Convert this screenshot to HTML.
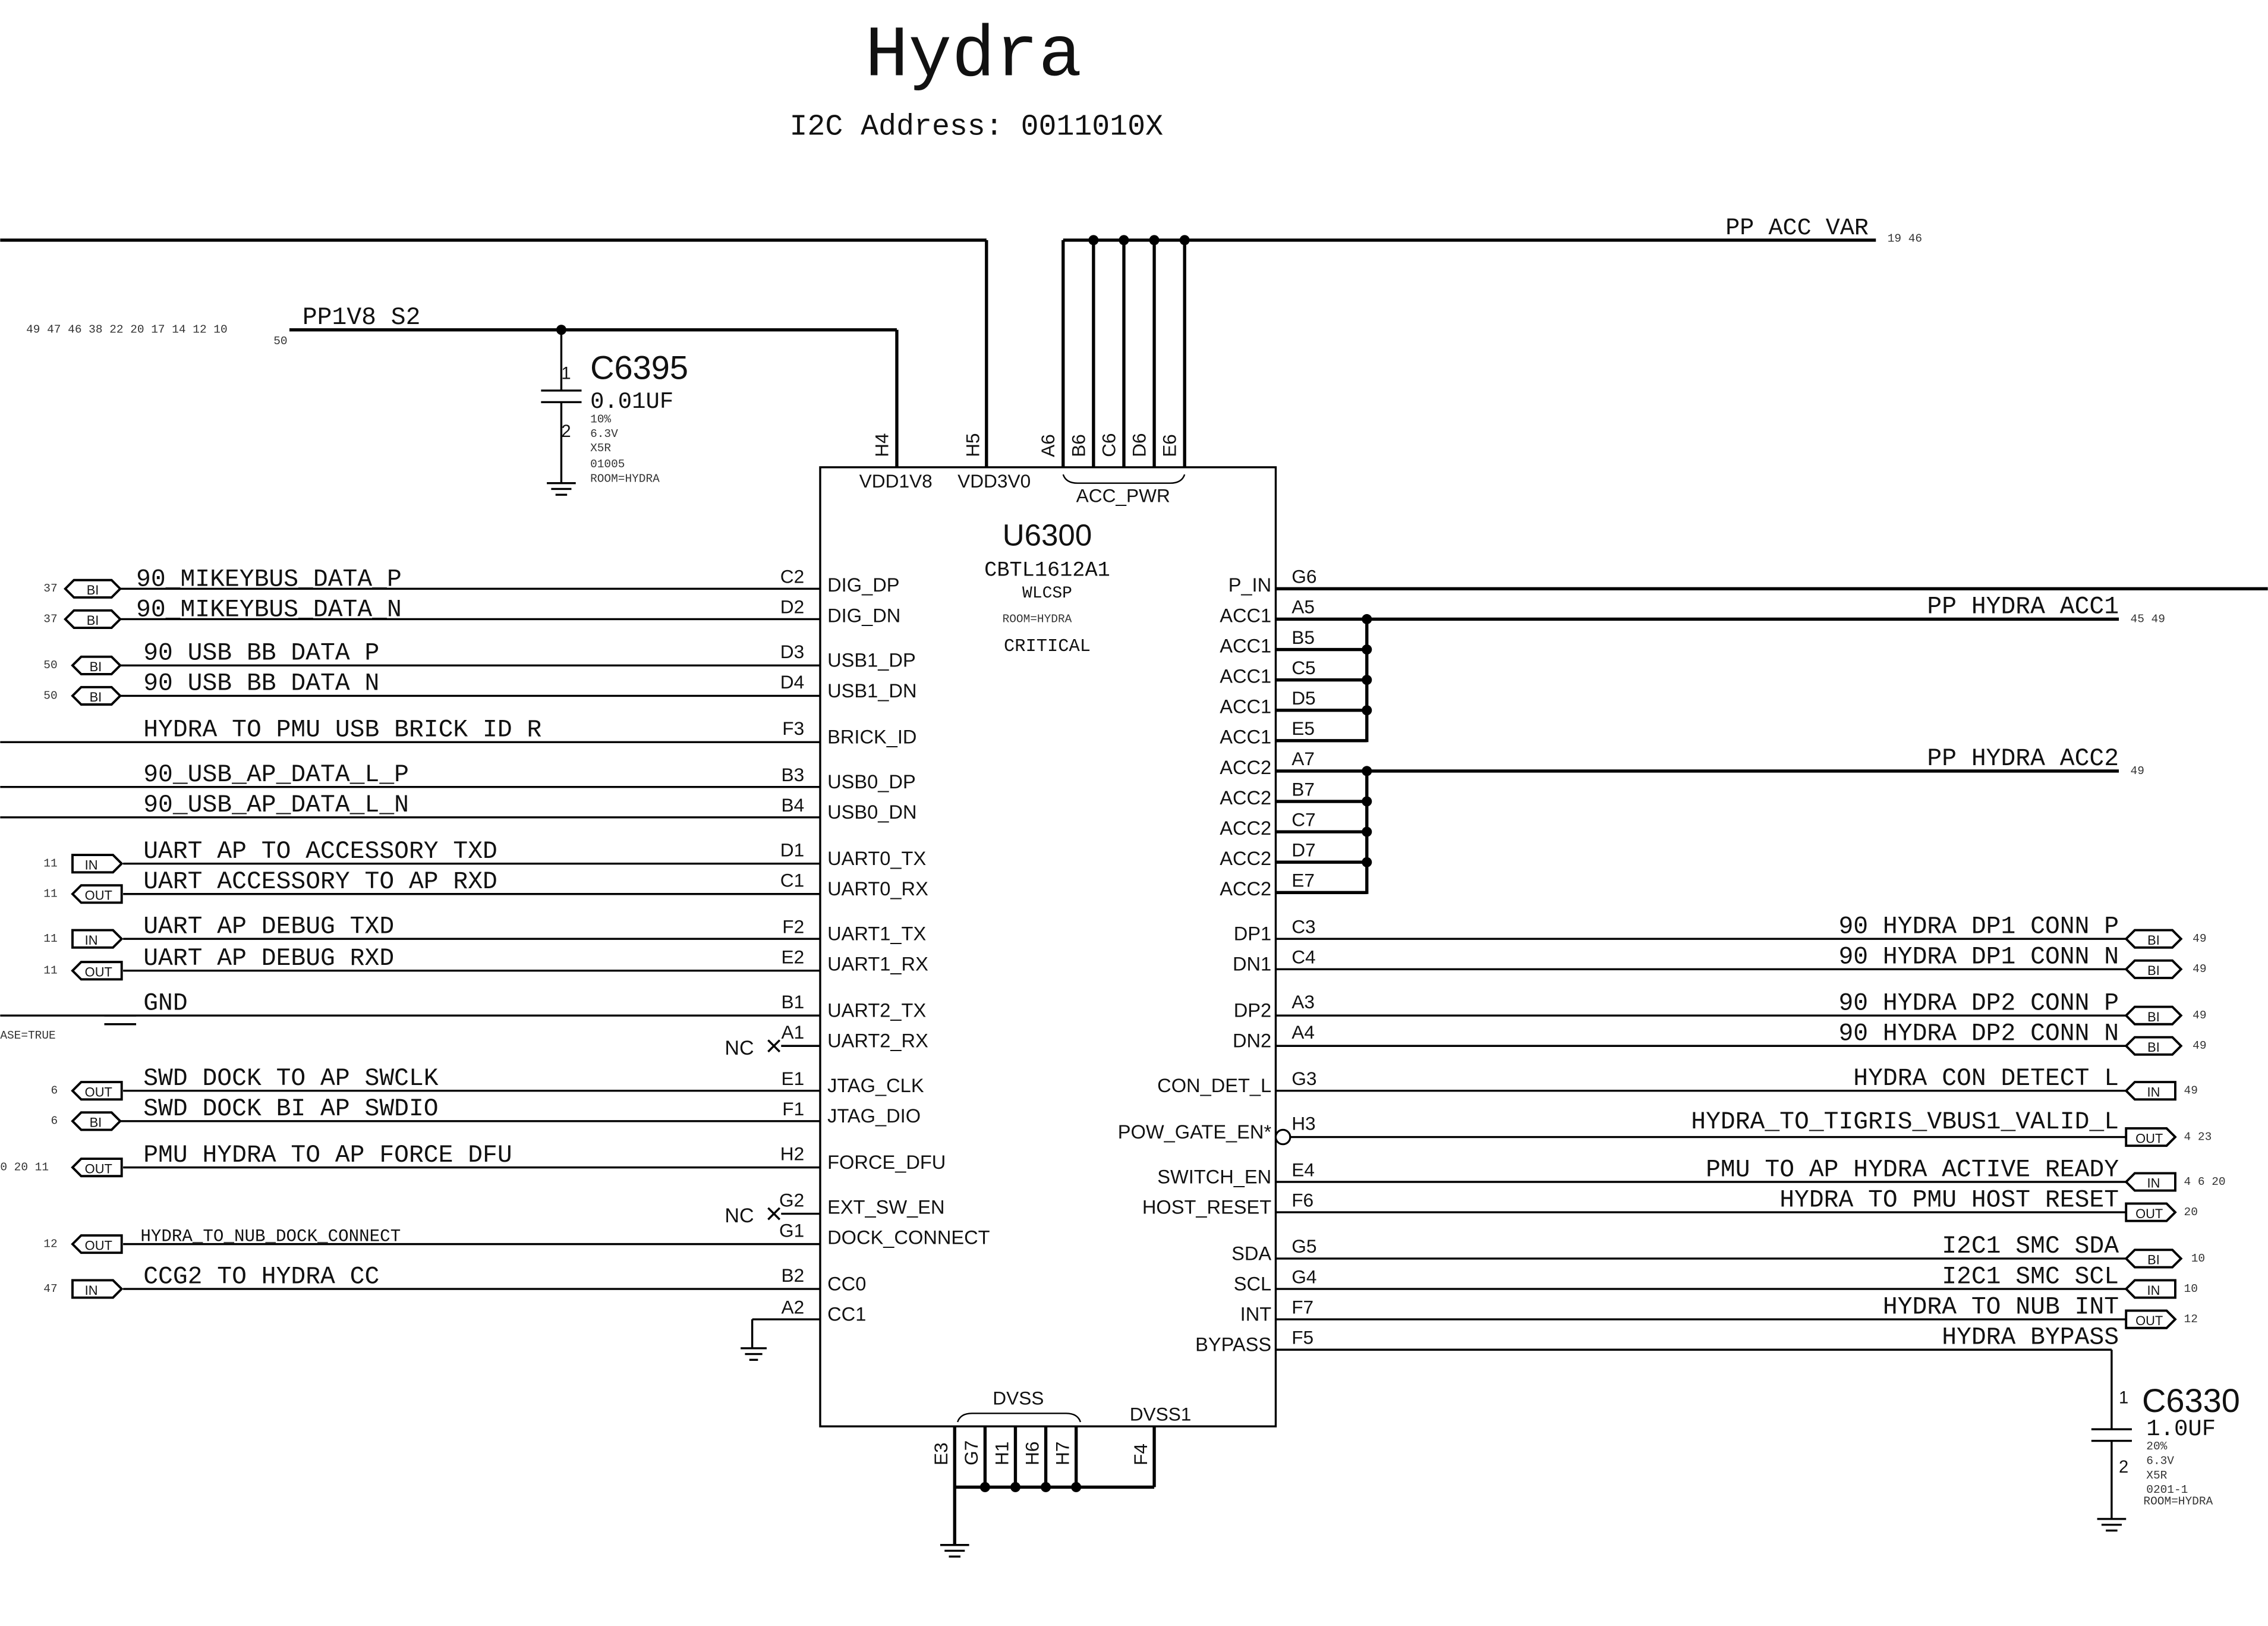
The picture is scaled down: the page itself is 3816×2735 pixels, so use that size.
<!DOCTYPE html>
<html><head><meta charset="utf-8"><style>
html,body{margin:0;padding:0;background:#fff}
svg{display:block}
.m{font-family:"Liberation Mono",monospace;fill:#111}
.s{font-family:"Liberation Sans",sans-serif;fill:#111}
.sm{font-family:"Liberation Mono",monospace;font-size:8px;fill:#333}
.fl{font-family:"Liberation Sans",sans-serif;font-size:9px;fill:#111;text-anchor:middle}
line,polyline,path,rect,polygon{stroke:#000;fill:none}
.w{stroke-width:1.4}
.t{stroke-width:2.2}
</style></head><body>
<svg width="3816" height="2735" viewBox="0 0 1568 1124" xmlns="http://www.w3.org/2000/svg">
<rect x="0" y="0" width="1568" height="1124" style="fill:#fff;stroke:none"/>
<text x="673" y="52" class="m" font-size="50" text-anchor="middle">Hydra</text>
<text x="675" y="93" class="m" font-size="20.5" text-anchor="middle">I2C Address: 0011010X</text>

<!-- chip -->
<rect x="567" y="323" width="315" height="663" class="w"/>
<text x="724" y="377" class="s" font-size="21" text-anchor="middle">U6300</text>
<text x="724" y="398" class="m" font-size="14.5" text-anchor="middle">CBTL1612A1</text>
<text x="724" y="413" class="m" font-size="11.5" text-anchor="middle">WLCSP</text>
<text x="693" y="430" class="sm" font-size="7">ROOM=HYDRA</text>
<text x="724" y="450" class="m" font-size="12.5" text-anchor="middle">CRITICAL</text>

<!-- top power -->
<line x1="0" y1="166" x2="682" y2="166" class="t"/>
<line x1="682" y1="166" x2="682" y2="323" class="t"/>
<line x1="735" y1="166" x2="1297" y2="166" class="t"/>
<line x1="735" y1="166" x2="735" y2="323" class="t"/>
<line x1="756" y1="166" x2="756" y2="323" class="t"/>
<line x1="777" y1="166" x2="777" y2="323" class="t"/>
<line x1="798" y1="166" x2="798" y2="323" class="t"/>
<line x1="819" y1="166" x2="819" y2="323" class="t"/>
<circle cx="756" cy="166" r="3.5" fill="#000"/><circle cx="777" cy="166" r="3.5" fill="#000"/><circle cx="798" cy="166" r="3.5" fill="#000"/><circle cx="819" cy="166" r="3.5" fill="#000"/>
<text x="1193" y="162" class="m" font-size="16.5">PP ACC VAR</text>
<text x="1305" y="167" class="sm">19 46</text>
<line x1="200" y1="228" x2="620" y2="228" class="t"/>
<line x1="620" y1="228" x2="620" y2="323" class="t"/>
<circle cx="388" cy="228" r="3.5" fill="#000"/>
<text x="209" y="224" class="m" font-size="17">PP1V8 S2</text>
<text x="18" y="230" class="sm">49 47 46 38 22 20 17 14 12 10</text>
<text x="189" y="238" class="sm">50</text>
<g class="s" font-size="13">
<text transform="translate(614,316) rotate(-90)">H4</text>
<text transform="translate(677,316) rotate(-90)">H5</text>
<text transform="translate(729,316) rotate(-90)">A6</text>
<text transform="translate(750,316) rotate(-90)">B6</text>
<text transform="translate(771,316) rotate(-90)">C6</text>
<text transform="translate(792,316) rotate(-90)">D6</text>
<text transform="translate(813,316) rotate(-90)">E6</text>
</g>
<text x="594" y="337" class="s" font-size="13">VDD1V8</text>
<text x="662" y="337" class="s" font-size="13">VDD3V0</text>
<path d="M735 328 Q737 334 745 334 L809 334 Q817 334 819 328" stroke-width="1"/>
<text x="744" y="347" class="s" font-size="13">ACC_PWR</text>

<!-- C6395 -->
<line x1="388" y1="228" x2="388" y2="270" class="w"/>
<line x1="374" y1="270" x2="402" y2="270" class="w"/>
<line x1="374" y1="278" x2="402" y2="278" class="w"/>
<line x1="388" y1="278" x2="388" y2="334" class="w"/>
<line x1="378" y1="334" x2="398" y2="334" class="w"/><line x1="381" y1="338" x2="395" y2="338" class="w"/><line x1="384" y1="342" x2="392" y2="342" class="w"/>
<text x="388" y="262" class="s" font-size="12">1</text>
<text x="388" y="302" class="s" font-size="12">2</text>
<text x="408" y="262" class="s" font-size="23">C6395</text>
<text x="408" y="282" class="m" font-size="16">0.01UF</text>
<text x="408" y="292" class="sm">10%</text>
<text x="408" y="302" class="sm">6.3V</text>
<text x="408" y="312" class="sm">X5R</text>
<text x="408" y="323" class="sm">01005</text>
<text x="408" y="333" class="sm" font-size="6">ROOM=HYDRA</text>

<!-- left side lines -->
<g class="w">
<line x1="83" y1="407" x2="567" y2="407"/>
<line x1="83" y1="428" x2="567" y2="428"/>
<line x1="83" y1="460" x2="567" y2="460"/>
<line x1="83" y1="481" x2="567" y2="481"/>
<line x1="0" y1="513" x2="567" y2="513"/>
<line x1="0" y1="544" x2="567" y2="544"/>
<line x1="0" y1="565" x2="567" y2="565"/>
<line x1="85" y1="597" x2="567" y2="597"/>
<line x1="85" y1="618" x2="567" y2="618"/>
<line x1="85" y1="649" x2="567" y2="649"/>
<line x1="85" y1="671" x2="567" y2="671"/>
<line x1="0" y1="702" x2="567" y2="702"/>
<line x1="540" y1="723" x2="567" y2="723"/>
<line x1="85" y1="754" x2="567" y2="754"/>
<line x1="83" y1="775" x2="567" y2="775"/>
<line x1="85" y1="807" x2="567" y2="807"/>
<line x1="540" y1="839" x2="567" y2="839"/>
<line x1="85" y1="860" x2="567" y2="860"/>
<line x1="85" y1="891" x2="567" y2="891"/>
<line x1="520" y1="912" x2="567" y2="912"/>
<line x1="520" y1="912" x2="520" y2="932"/>
<line x1="512" y1="932" x2="530" y2="932"/><line x1="515" y1="936" x2="527" y2="936"/><line x1="518" y1="940" x2="524" y2="940"/>
<line x1="72" y1="702" x2="94" y2="702"/><line x1="72" y1="708" x2="94" y2="708"/>
<line x1="531" y1="719" x2="539" y2="727"/><line x1="531" y1="727" x2="539" y2="719"/>
<line x1="531" y1="835" x2="539" y2="843"/><line x1="531" y1="843" x2="539" y2="835"/>
</g>
<text x="501" y="729" class="s" font-size="14">NC</text>
<text x="501" y="845" class="s" font-size="14">NC</text>
<text x="0" y="718" class="sm">ASE=TRUE</text>

<g class="m" font-size="17">
<text x="94" y="405">90_MIKEYBUS_DATA_P</text>
<text x="94" y="426">90_MIKEYBUS_DATA_N</text>
<text x="99" y="456">90 USB BB DATA P</text>
<text x="99" y="477">90 USB BB DATA N</text>
<text x="99" y="509">HYDRA TO PMU USB BRICK ID R</text>
<text x="99" y="540">90_USB_AP_DATA_L_P</text>
<text x="99" y="561">90_USB_AP_DATA_L_N</text>
<text x="99" y="593">UART AP TO ACCESSORY TXD</text>
<text x="99" y="614">UART ACCESSORY TO AP RXD</text>
<text x="99" y="645">UART AP DEBUG TXD</text>
<text x="99" y="667">UART AP DEBUG RXD</text>
<text x="99" y="698">GND</text>
<text x="99" y="750">SWD DOCK TO AP SWCLK</text>
<text x="99" y="771">SWD DOCK BI AP SWDIO</text>
<text x="99" y="803">PMU HYDRA TO AP FORCE DFU</text>
<text x="99" y="887">CCG2 TO HYDRA CC</text>
</g>
<text x="97" y="858" class="m" font-size="12">HYDRA_TO_NUB_DOCK_CONNECT</text>

<!-- left flags -->
<g stroke-width="1.6">
<polygon points="45,407 51,401 77,401 83,407 77,413 51,413"/>
<polygon points="45,428 51,422 77,422 83,428 77,434 51,434"/>
<polygon points="50,460 56,454 77,454 83,460 77,466 56,466"/>
<polygon points="50,481 56,475 77,475 83,481 77,487 56,487"/>
<polygon points="50,591 78,591 84,597 78,603 50,603"/>
<polygon points="56,612 84,612 84,624 56,624 50,618"/>
<polygon points="50,643 78,643 84,649 78,655 50,655"/>
<polygon points="56,665 84,665 84,677 56,677 50,671"/>
<polygon points="56,748 84,748 84,760 56,760 50,754"/>
<polygon points="50,775 56,769 77,769 83,775 77,781 56,781"/>
<polygon points="56,801 84,801 84,813 56,813 50,807"/>
<polygon points="56,854 84,854 84,866 56,866 50,860"/>
<polygon points="50,885 78,885 84,891 78,897 50,897"/>
</g>
<g class="fl">
<text x="64" y="411">BI</text><text x="64" y="432">BI</text>
<text x="66" y="464">BI</text><text x="66" y="485">BI</text>
<text x="63" y="601">IN</text><text x="68" y="622">OUT</text>
<text x="63" y="653">IN</text><text x="68" y="675">OUT</text>
<text x="68" y="758">OUT</text><text x="66" y="779">BI</text>
<text x="68" y="811">OUT</text><text x="68" y="864">OUT</text>
<text x="63" y="895">IN</text>
</g>
<g class="sm">
<text x="30" y="409">37</text><text x="30" y="430">37</text>
<text x="30" y="462">50</text><text x="30" y="483">50</text>
<text x="30" y="599">11</text><text x="30" y="620">11</text>
<text x="30" y="651">11</text><text x="30" y="673">11</text>
<text x="35" y="756">6</text><text x="35" y="777">6</text>
<text x="0" y="809">0  20  11</text>
<text x="30" y="862">12</text><text x="30" y="893">47</text>
</g>

<g class="s" font-size="13" text-anchor="end">
<text x="556" y="403">C2</text><text x="556" y="424">D2</text>
<text x="556" y="455">D3</text><text x="556" y="476">D4</text>
<text x="556" y="508">F3</text><text x="556" y="540">B3</text><text x="556" y="561">B4</text>
<text x="556" y="592">D1</text><text x="556" y="613">C1</text>
<text x="556" y="645">F2</text><text x="556" y="666">E2</text>
<text x="556" y="697">B1</text><text x="556" y="718">A1</text>
<text x="556" y="750">E1</text><text x="556" y="771">F1</text>
<text x="556" y="802">H2</text><text x="556" y="834">G2</text><text x="556" y="855">G1</text>
<text x="556" y="886">B2</text><text x="556" y="908">A2</text>
</g>
<g class="s" font-size="13.4">
<text x="572" y="409">DIG_DP</text><text x="572" y="430">DIG_DN</text>
<text x="572" y="461">USB1_DP</text><text x="572" y="482">USB1_DN</text>
<text x="572" y="514">BRICK_ID</text>
<text x="572" y="545">USB0_DP</text><text x="572" y="566">USB0_DN</text>
<text x="572" y="598">UART0_TX</text><text x="572" y="619">UART0_RX</text>
<text x="572" y="650">UART1_TX</text><text x="572" y="671">UART1_RX</text>
<text x="572" y="703">UART2_TX</text><text x="572" y="724">UART2_RX</text>
<text x="572" y="755">JTAG_CLK</text><text x="572" y="776">JTAG_DIO</text>
<text x="572" y="808">FORCE_DFU</text>
<text x="572" y="839">EXT_SW_EN</text><text x="572" y="860">DOCK_CONNECT</text>
<text x="572" y="892">CC0</text><text x="572" y="913">CC1</text>
</g>

<!-- right side -->
<g class="s" font-size="13.4" text-anchor="end">
<text x="879" y="409">P_IN</text><text x="879" y="430">ACC1</text><text x="879" y="451">ACC1</text>
<text x="879" y="472">ACC1</text><text x="879" y="493">ACC1</text><text x="879" y="514">ACC1</text>
<text x="879" y="535">ACC2</text><text x="879" y="556">ACC2</text><text x="879" y="577">ACC2</text>
<text x="879" y="598">ACC2</text><text x="879" y="619">ACC2</text>
<text x="879" y="650">DP1</text><text x="879" y="671">DN1</text>
<text x="879" y="703">DP2</text><text x="879" y="724">DN2</text>
<text x="879" y="755">CON_DET_L</text><text x="879" y="787">POW_GATE_EN*</text>
<text x="879" y="818">SWITCH_EN</text><text x="879" y="839">HOST_RESET</text>
<text x="879" y="871">SDA</text><text x="879" y="892">SCL</text>
<text x="879" y="913">INT</text><text x="879" y="934">BYPASS</text>
</g>
<g class="s" font-size="13">
<text x="893" y="403">G6</text><text x="893" y="424">A5</text><text x="893" y="445">B5</text>
<text x="893" y="466">C5</text><text x="893" y="487">D5</text><text x="893" y="508">E5</text>
<text x="893" y="529">A7</text><text x="893" y="550">B7</text><text x="893" y="571">C7</text>
<text x="893" y="592">D7</text><text x="893" y="613">E7</text>
<text x="893" y="645">C3</text><text x="893" y="666">C4</text>
<text x="893" y="697">A3</text><text x="893" y="718">A4</text>
<text x="893" y="750">G3</text><text x="893" y="781">H3</text>
<text x="893" y="813">E4</text><text x="893" y="834">F6</text>
<text x="893" y="866">G5</text><text x="893" y="887">G4</text>
<text x="893" y="908">F7</text><text x="893" y="929">F5</text>
</g>
<line x1="882" y1="407" x2="1568" y2="407" class="t"/>
<line x1="882" y1="428" x2="1465" y2="428" class="t"/>
<line x1="882" y1="533" x2="1465" y2="533" class="t"/>
<g class="t">
<line x1="882" y1="449" x2="945" y2="449"/><line x1="882" y1="470" x2="945" y2="470"/>
<line x1="882" y1="491" x2="945" y2="491"/><line x1="882" y1="512" x2="945" y2="512"/>
<line x1="945" y1="428" x2="945" y2="513"/>
<line x1="882" y1="554" x2="945" y2="554"/><line x1="882" y1="575" x2="945" y2="575"/>
<line x1="882" y1="596" x2="945" y2="596"/><line x1="882" y1="617" x2="945" y2="617"/>
<line x1="945" y1="533" x2="945" y2="618"/>
</g>
<g fill="#000" stroke="none">
<circle cx="945" cy="428" r="3.5"/><circle cx="945" cy="449" r="3.5"/><circle cx="945" cy="470" r="3.5"/><circle cx="945" cy="491" r="3.5"/>
<circle cx="945" cy="533" r="3.5"/><circle cx="945" cy="554" r="3.5"/><circle cx="945" cy="575" r="3.5"/><circle cx="945" cy="596" r="3.5"/>
</g>
<text x="1465" y="424" class="m" font-size="17" text-anchor="end">PP HYDRA ACC1</text>
<text x="1473" y="430" class="sm">45 49</text>
<text x="1465" y="529" class="m" font-size="17" text-anchor="end">PP HYDRA ACC2</text>
<text x="1473" y="535" class="sm">49</text>

<g class="w">
<line x1="882" y1="649" x2="1470" y2="649"/><line x1="882" y1="670" x2="1470" y2="670"/>
<line x1="882" y1="702" x2="1470" y2="702"/><line x1="882" y1="723" x2="1470" y2="723"/>
<line x1="882" y1="754" x2="1470" y2="754"/><line x1="892" y1="786" x2="1470" y2="786"/>
<line x1="882" y1="817" x2="1470" y2="817"/><line x1="882" y1="838" x2="1470" y2="838"/>
<line x1="882" y1="870" x2="1470" y2="870"/><line x1="882" y1="891" x2="1470" y2="891"/>
<line x1="882" y1="912" x2="1470" y2="912"/>
<line x1="882" y1="933" x2="1460" y2="933"/>
<line x1="1460" y1="933" x2="1460" y2="988"/>
<line x1="1446" y1="988" x2="1474" y2="988"/><line x1="1446" y1="996" x2="1474" y2="996"/>
<line x1="1460" y1="996" x2="1460" y2="1050"/>
<line x1="1450" y1="1050" x2="1470" y2="1050"/><line x1="1453" y1="1054" x2="1467" y2="1054"/><line x1="1456" y1="1058" x2="1464" y2="1058"/>
</g>
<circle cx="887" cy="786" r="5" fill="#fff" stroke="#000" stroke-width="1.3"/>
<g class="m" font-size="17" text-anchor="end">
<text x="1465" y="645">90 HYDRA DP1 CONN P</text>
<text x="1465" y="666">90 HYDRA DP1 CONN N</text>
<text x="1465" y="698">90 HYDRA DP2 CONN P</text>
<text x="1465" y="719">90 HYDRA DP2 CONN N</text>
<text x="1465" y="750">HYDRA CON DETECT L</text>
<text x="1465" y="780">HYDRA_TO_TIGRIS_VBUS1_VALID_L</text>
<text x="1465" y="813">PMU TO AP HYDRA ACTIVE READY</text>
<text x="1465" y="834">HYDRA TO PMU HOST RESET</text>
<text x="1465" y="866">I2C1 SMC SDA</text>
<text x="1465" y="887">I2C1 SMC SCL</text>
<text x="1465" y="908">HYDRA TO NUB INT</text>
<text x="1465" y="929">HYDRA BYPASS</text>
</g>
<g stroke-width="1.6" style="fill:#fff">
<polygon points="1470,649 1476,643 1502,643 1508,649 1502,655 1476,655"/>
<polygon points="1470,670 1476,664 1502,664 1508,670 1502,676 1476,676"/>
<polygon points="1470,702 1476,696 1502,696 1508,702 1502,708 1476,708"/>
<polygon points="1470,723 1476,717 1502,717 1508,723 1502,729 1476,729"/>
<polygon points="1476,748 1504,748 1504,760 1476,760 1470,754"/>
<polygon points="1470,780 1498,780 1504,786 1498,792 1470,792"/>
<polygon points="1476,811 1504,811 1504,823 1476,823 1470,817"/>
<polygon points="1470,832 1498,832 1504,838 1498,844 1470,844"/>
<polygon points="1470,870 1476,864 1502,864 1508,870 1502,876 1476,876"/>
<polygon points="1476,885 1504,885 1504,897 1476,897 1470,891"/>
<polygon points="1470,906 1498,906 1504,912 1498,918 1470,918"/>
</g>
<g class="fl">
<text x="1489" y="653">BI</text><text x="1489" y="674">BI</text>
<text x="1489" y="706">BI</text><text x="1489" y="727">BI</text>
<text x="1489" y="758">IN</text><text x="1486" y="790">OUT</text>
<text x="1489" y="821">IN</text><text x="1486" y="842">OUT</text>
<text x="1489" y="874">BI</text><text x="1489" y="895">IN</text>
<text x="1486" y="916">OUT</text>
</g>
<g class="sm">
<text x="1516" y="651">49</text><text x="1516" y="672">49</text>
<text x="1516" y="704">49</text><text x="1516" y="725">49</text>
<text x="1510" y="756">49</text><text x="1510" y="788">4 23</text>
<text x="1510" y="819">4 6 20</text><text x="1510" y="840">20</text>
<text x="1515" y="872">10</text><text x="1510" y="893">10</text>
<text x="1510" y="914">12</text>
</g>
<!-- C6330 -->
<text x="1465" y="970" class="s" font-size="12">1</text>
<text x="1465" y="1018" class="s" font-size="12">2</text>
<text x="1481" y="976" class="s" font-size="23">C6330</text>
<text x="1484" y="992" class="m" font-size="16">1.0UF</text>
<text x="1484" y="1002" class="sm">20%</text>
<text x="1484" y="1012" class="sm">6.3V</text>
<text x="1484" y="1022" class="sm">X5R</text>
<text x="1484" y="1032" class="sm">0201-1</text>
<text x="1482" y="1040" class="sm" font-size="6">ROOM=HYDRA</text>

<!-- bottom -->
<path d="M662 983 Q664 977 672 977 L737 977 Q745 977 747 983" stroke-width="1"/>
<text x="704" y="971" class="s" font-size="13" text-anchor="middle">DVSS</text>
<text x="781" y="982" class="s" font-size="13">DVSS1</text>
<g class="t">
<line x1="660" y1="986" x2="660" y2="1068"/>
<line x1="681" y1="986" x2="681" y2="1028"/>
<line x1="702" y1="986" x2="702" y2="1028"/>
<line x1="723" y1="986" x2="723" y2="1028"/>
<line x1="744" y1="986" x2="744" y2="1028"/>
<line x1="798" y1="986" x2="798" y2="1028"/>
<line x1="660" y1="1028" x2="798" y2="1028"/>
</g>
<g class="w"><line x1="650" y1="1068" x2="670" y2="1068"/><line x1="653" y1="1072" x2="667" y2="1072"/><line x1="656" y1="1076" x2="664" y2="1076"/></g>
<g fill="#000" stroke="none">
<circle cx="681" cy="1028" r="3.5"/><circle cx="702" cy="1028" r="3.5"/><circle cx="723" cy="1028" r="3.5"/><circle cx="744" cy="1028" r="3.5"/>
</g>
<g class="s" font-size="13">
<text transform="translate(655,1013) rotate(-90)">E3</text>
<text transform="translate(676,1013) rotate(-90)">G7</text>
<text transform="translate(697,1013) rotate(-90)">H1</text>
<text transform="translate(718,1013) rotate(-90)">H6</text>
<text transform="translate(739,1013) rotate(-90)">H7</text>
<text transform="translate(793,1013) rotate(-90)">F4</text>
</g>
</svg>
</body></html>
